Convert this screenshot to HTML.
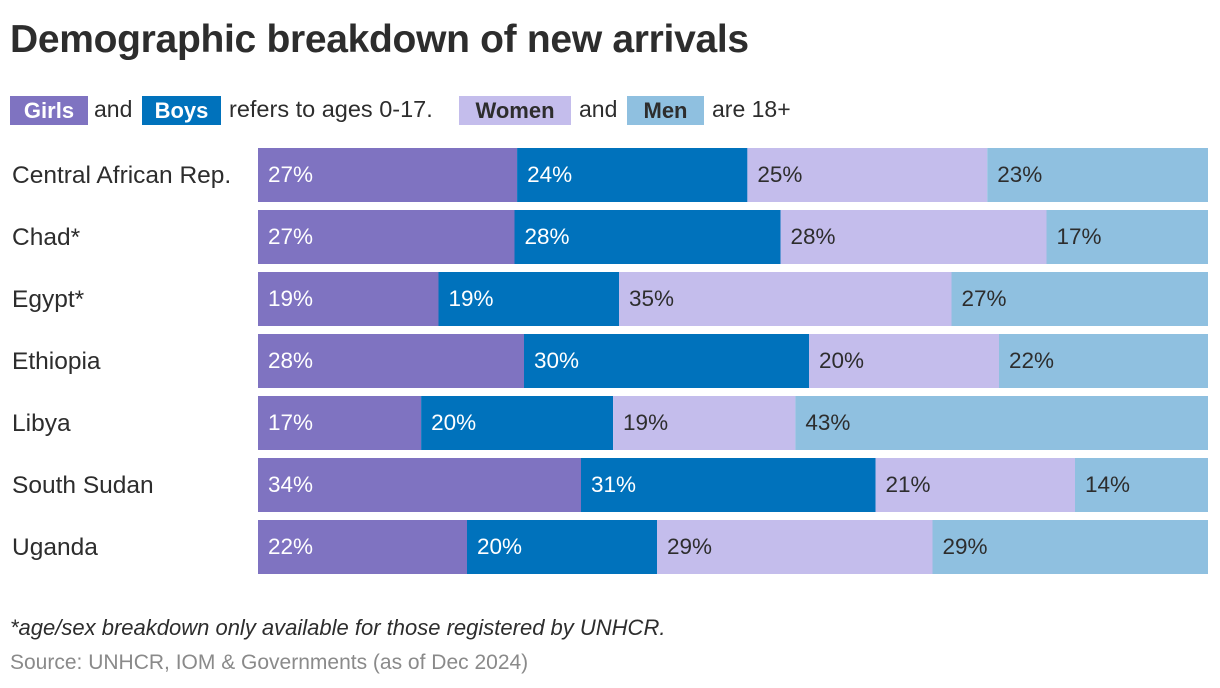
<!DOCTYPE html>
<html><head><meta charset="utf-8"><style>
body{margin:0;width:1220px;height:688px;background:#fff;font-family:"Liberation Sans",sans-serif;color:#2d2d2d;position:relative;overflow:hidden}
.t{position:absolute;white-space:nowrap}
.tag{position:absolute;top:96px;height:29px;font-weight:bold;font-size:22px;line-height:29px;text-align:center}
</style></head><body>
<div class="t" style="left:10px;top:18px;font-size:39px;font-weight:bold;letter-spacing:-0.3px">Demographic breakdown of new arrivals</div>
<div>
<div class="tag" style="left:10px;width:78px;background:#7f73c1;color:#fff">Girls</div>
<div class="t" style="left:94px;top:96px;font-size:23px">and</div>
<div class="tag" style="left:142px;width:79px;background:#0072bc;color:#fff">Boys</div>
<div class="t" style="left:229px;top:96px;font-size:23.5px">refers to ages 0-17.</div>
<div class="tag" style="left:459px;width:112px;background:#c4bdec;color:#2d2d2d">Women</div>
<div class="t" style="left:579px;top:96px;font-size:23px">and</div>
<div class="tag" style="left:627px;width:77px;background:#8fc0e0;color:#2d2d2d">Men</div>
<div class="t" style="left:712px;top:96px;font-size:23px">are 18+</div>
</div>
<svg id="c" width="1220" height="688" style="position:absolute;left:0;top:0"></svg>
<div class="t" style="left:10px;top:615px;font-size:22px;font-style:italic">*age/sex breakdown only available for those registered by UNHCR.</div>
<div class="t" style="left:10px;top:651px;font-size:21px;color:#8a8a8a">Source: UNHCR, IOM &amp; Governments (as of Dec 2024)</div>
<script>
const categories=["Central African Rep.","Chad*","Egypt*","Ethiopia","Libya","South Sudan","Uganda"];
const girls=[27,27,19,28,17,34,22];
const boys=[24,28,19,30,20,31,20];
const women=[25,28,35,20,19,21,29];
const men=[23,17,27,22,43,14,29];
const series=[girls,boys,women,men];
const seriesNames=["girls","boys","women","men"];
const colors=["#7f73c1","#0072bc","#c4bdec","#8fc0e0"];
const textColors=["#fff","#fff","#2d2d2d","#2d2d2d"];
const svg=document.getElementById('c');
const NS="http://www.w3.org/2000/svg";
const x0=258,x1=1208,y0=148,pitch=62,bh=54;
const yPos=i=>y0+i*pitch;
categories.forEach((cat,i)=>{
  const lab=document.createElementNS(NS,'text');
  
  
  lab.setAttribute('x',12);lab.setAttribute('y',yPos(i)+bh/2+8);
  lab.setAttribute('font-size','24.5');lab.setAttribute('fill','#2d2d2d');
  lab.textContent=cat;svg.appendChild(lab);
  const tot=series.reduce((s,a)=>s+a[i],0);
  const xs=v=>(v/tot)*(x1-x0);
  let cx=x0;
  series.forEach((arr,k)=>{
    const w=xs(arr[i]);
    const r=document.createElementNS(NS,'rect');
    
    
    r.setAttribute('x',cx);r.setAttribute('y',yPos(i));r.setAttribute('width',w);r.setAttribute('height',bh);
    r.setAttribute('fill',colors[k]);svg.appendChild(r);
    const t=document.createElementNS(NS,'text');
    
    
    t.setAttribute('x',cx+10);t.setAttribute('y',yPos(i)+bh/2+7);
    t.setAttribute('font-size','22.5');t.setAttribute('fill',textColors[k]);
    t.textContent=arr[i]+'%';svg.appendChild(t);
    cx+=w;
  });
});
</script>
</body></html>
